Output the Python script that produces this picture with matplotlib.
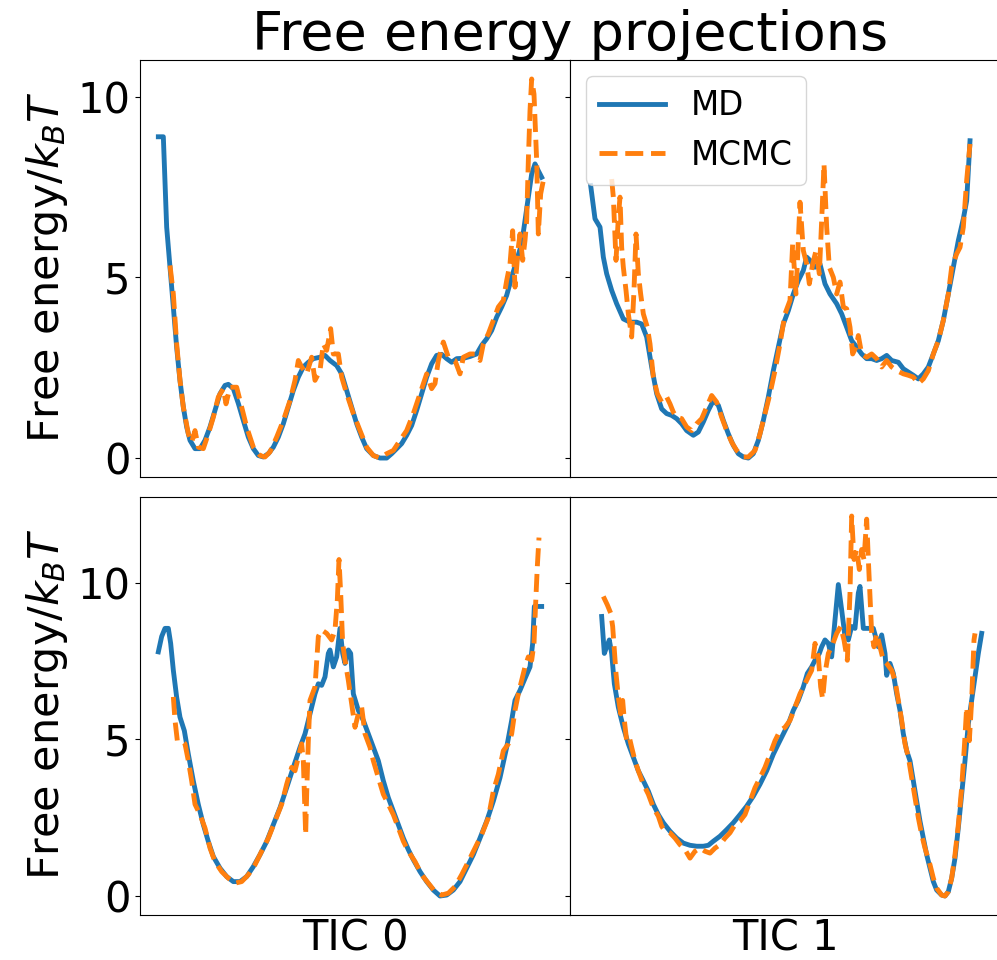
import matplotlib
matplotlib.use("Agg")
import matplotlib.pyplot as plt
import numpy as np

# ---------------- data (x = TIC bin position, y = free energy / kBT) ----------------
tic0_top_md = [(55,8.89),(70,8.89),(80,6.39),(90,5.28),(100,4.18),(110,3.06),(120,2.14),(130,1.41),(140,0.86),(150,0.49),(165,0.26),(180,0.26),(195,0.49),(210,0.86),(225,1.32),(240,1.78),(255,2.01),(265,2.04),(280,1.92),(295,1.51),(310,1.04),(325,0.58),(340,0.26),(355,0.07),(370,0.03),(385,0.12),(400,0.30),(415,0.58),(430,0.95),(445,1.41),(460,1.87),(475,2.24),(490,2.52),(505,2.65),(520,2.75),(540,2.79),(555,2.84),(570,2.70),(590,2.56),(605,2.33),(620,1.87),(635,1.41),(650,0.95),(665,0.58),(680,0.26),(700,0.07),(720,0.0),(740,0.0),(755,0.12),(770,0.26),(785,0.40),(800,0.63),(815,0.90),(830,1.32),(845,1.78),(860,2.24),(875,2.61),(890,2.84),(905,2.87),(920,2.75),(935,2.65),(950,2.75),(970,2.76),(990,2.81),(1010,2.88),(1025,3.12),(1040,3.30),(1055,3.53),(1070,3.90),(1085,4.18),(1100,4.50),(1115,5.00),(1130,5.47),(1145,5.93),(1155,6.57),(1165,7.22),(1175,7.86),(1185,8.14),(1195,7.95),(1205,7.77)]

tic0_top_mcmc = [(90,5.33),(100,4.54),(110,3.16),(120,2.15),(130,1.41),(145,0.67),(155,0.44),(165,0.76),(175,0.30),(190,0.26),(205,0.67),(220,1.13),(235,1.69),(250,1.92),(258,1.50),(270,1.96),(290,1.96),(305,1.41),(320,0.86),(340,0.30),(360,0.07),(375,0.03),(390,0.17),(410,0.58),(430,1.04),(450,1.59),(465,2.15),(475,2.70),(485,2.52),(500,2.33),(515,2.79),(525,2.15),(540,2.42),(550,3.16),(560,2.98),(572,3.58),(580,2.88),(595,2.88),(605,2.24),(620,1.78),(640,1.23),(660,0.76),(680,0.30),(700,0.07),(720,0.0),(740,0.12),(760,0.21),(780,0.49),(800,0.76),(820,1.23),(840,1.78),(860,2.33),(875,1.92),(885,2.06),(895,2.70),(910,3.21),(925,2.79),(945,2.70),(960,2.33),(970,2.79),(990,2.88),(1005,2.88),(1020,2.70),(1030,3.16),(1045,3.44),(1060,3.81),(1075,4.18),(1090,4.36),(1100,4.91),(1110,5.37),(1118,6.29),(1125,4.73),(1135,5.83),(1140,6.20),(1148,5.47),(1155,6.02),(1160,6.57),(1165,8.23),(1170,9.61),(1175,10.49),(1182,10.07),(1190,8.23),(1195,6.20),(1202,7.31),(1210,7.68)]

tic1_top_md = [(62,7.54),(75,6.62),(90,6.39),(100,5.56),(110,5.10),(125,4.64),(140,4.27),(160,3.85),(180,3.76),(200,3.76),(215,3.71),(230,3.35),(245,2.52),(260,1.78),(275,1.36),(290,1.23),(305,1.18),(320,1.09),(335,0.95),(350,0.76),(370,0.63),(385,0.72),(400,1.00),(415,1.32),(430,1.59),(445,1.46),(460,1.04),(475,0.67),(490,0.35),(505,0.12),(520,0.03),(535,0.0),(550,0.12),(565,0.49),(580,1.04),(595,1.69),(610,2.42),(625,3.07),(640,3.71),(655,4.08),(670,4.54),(685,4.91),(700,5.19),(710,5.56),(720,5.47),(735,5.28),(750,5.37),(765,4.82),(780,4.54),(800,4.27),(815,3.99),(830,3.62),(845,3.25),(860,3.07),(875,2.88),(890,2.75),(905,2.75),(920,2.70),(935,2.75),(950,2.84),(965,2.70),(985,2.65),(1000,2.47),(1015,2.38),(1030,2.29),(1045,2.19),(1060,2.33),(1075,2.52),(1090,2.88),(1105,3.25),(1120,3.81),(1135,4.54),(1150,5.28),(1165,6.02),(1180,6.62),(1190,7.12),(1200,8.78)]

tic1_top_mcmc = [(125,7.72),(130,7.22),(138,5.47),(145,6.66),(150,7.22),(155,5.83),(160,5.28),(168,4.64),(175,3.99),(185,3.35),(192,4.64),(198,6.20),(205,5.10),(212,4.54),(220,3.99),(232,3.62),(240,3.16),(250,2.24),(262,1.78),(275,1.55),(290,1.69),(300,1.50),(310,1.27),(320,1.13),(335,1.09),(350,0.86),(365,0.76),(380,0.95),(395,1.09),(410,1.41),(425,1.73),(440,1.55),(455,1.13),(470,0.76),(485,0.44),(500,0.21),(520,0.03),(535,0.03),(555,0.21),(570,0.67),(585,1.23),(600,1.78),(615,2.42),(630,3.16),(645,3.99),(660,4.36),(668,5.93),(678,4.54),(690,7.08),(700,5.74),(710,5.37),(718,4.82),(728,5.37),(738,5.74),(748,5.10),(755,6.57),(762,8.14),(770,6.39),(778,5.28),(790,5.00),(800,4.54),(810,4.87),(820,4.18),(830,4.13),(840,3.62),(848,2.88),(858,3.07),(865,3.39),(875,2.88),(890,2.79),(905,2.88),(920,2.75),(935,2.52),(950,2.70),(965,2.52),(980,2.42),(1000,2.33),(1015,2.29),(1030,2.24),(1045,2.06),(1060,2.19),(1075,2.42),(1090,2.88),(1105,3.25),(1120,3.81),(1135,4.54),(1145,5.28),(1160,5.65),(1170,5.83),(1180,6.39),(1190,7.68),(1200,8.69)]

tic0_bot_md = [(55,7.80),(65,8.29),(75,8.55),(85,8.55),(92,8.07),(100,7.21),(110,6.35),(120,5.71),(133,5.28),(145,4.53),(160,3.67),(175,2.92),(190,2.28),(205,1.74),(220,1.26),(240,0.89),(260,0.62),(280,0.46),(300,0.46),(320,0.62),(340,0.94),(360,1.32),(380,1.74),(400,2.28),(420,2.82),(440,3.46),(460,4.11),(480,4.75),(495,5.18),(510,5.82),(525,6.46),(535,6.78),(545,6.73),(555,7.00),(565,7.75),(570,7.86),(580,7.32),(590,7.64),(600,8.55),(608,7.75),(615,7.43),(625,7.86),(632,7.75),(640,6.46),(655,5.93),(670,5.61),(685,5.18),(700,4.75),(715,4.32),(730,3.68),(745,3.14),(760,2.71),(775,2.28),(790,1.85),(805,1.48),(820,1.16),(840,0.78),(860,0.46),(880,0.19),(900,0.0),(920,0.03),(940,0.19),(960,0.46),(980,0.89),(1000,1.32),(1020,1.85),(1040,2.39),(1060,3.03),(1080,3.78),(1100,4.75),(1115,5.61),(1125,6.25),(1140,6.57),(1155,6.95),(1170,7.32),(1178,8.07),(1183,9.25),(1190,9.25),(1205,9.25)]

tic0_bot_mcmc = [(100,6.36),(105,5.61),(112,4.96),(125,4.96),(135,4.86),(145,4.32),(155,3.68),(165,2.93),(180,2.60),(195,2.17),(210,1.53),(225,1.10),(245,0.78),(265,0.57),(285,0.41),(305,0.46),(325,0.68),(345,1.00),(365,1.43),(385,1.85),(405,2.39),(425,2.93),(440,3.57),(455,4.11),(465,4.00),(475,4.43),(485,4.86),(490,4.32),(497,1.96),(500,3.25),(505,4.96),(510,6.25),(525,6.68),(535,8.29),(545,8.50),(560,8.39),(575,8.18),(585,8.50),(592,9.46),(597,10.75),(602,9.68),(608,8.07),(615,7.53),(625,6.89),(635,6.14),(645,5.39),(655,5.82),(665,6.03),(675,5.18),(690,4.75),(700,4.32),(715,3.78),(730,3.25),(745,2.93),(760,2.60),(775,2.18),(790,1.75),(805,1.43),(825,1.10),(845,0.68),(865,0.41),(885,0.14),(905,0.03),(925,0.09),(945,0.30),(965,0.68),(985,1.10),(1005,1.53),(1025,1.96),(1045,2.50),(1060,3.35),(1075,3.89),(1090,4.64),(1105,4.86),(1115,5.18),(1125,5.93),(1135,6.46),(1145,6.89),(1155,7.32),(1165,7.64),(1175,7.53),(1182,8.07),(1187,9.36),(1192,10.54),(1197,11.45)]

tic1_bot_md = [(95,8.93),(103,7.75),(110,7.96),(118,8.18),(125,7.75),(133,6.78),(145,6.03),(160,5.39),(175,4.86),(190,4.43),(205,4.00),(220,3.68),(235,3.35),(250,2.93),(265,2.60),(280,2.34),(300,2.07),(320,1.85),(340,1.69),(360,1.62),(380,1.59),(400,1.59),(415,1.62),(430,1.75),(450,1.91),(470,2.12),(490,2.34),(510,2.60),(530,2.87),(550,3.19),(570,3.57),(590,4.00),(610,4.53),(625,4.86),(640,5.18),(655,5.50),(670,5.93),(685,6.25),(700,6.68),(712,7.11),(725,7.32),(735,7.53),(748,7.75),(755,7.96),(765,8.18),(775,8.07),(785,7.64),(795,8.82),(805,9.95),(815,9.14),(825,8.29),(835,8.18),(845,8.61),(855,8.55),(865,9.68),(870,9.89),(880,8.55),(910,8.55),(925,7.96),(935,8.34),(945,7.75),(950,7.05),(960,7.43),(970,7.11),(980,6.46),(990,5.93),(1000,5.18),(1010,4.64),(1020,4.32),(1030,3.68),(1040,3.03),(1050,2.39),(1060,1.85),(1070,1.32),(1080,0.89),(1090,0.46),(1100,0.19),(1115,0.03),(1125,0.0),(1135,0.14),(1145,0.57),(1155,1.21),(1165,2.18),(1175,3.25),(1185,4.32),(1195,5.50),(1205,6.25),(1215,7.00),(1225,7.75),(1235,8.39)]

tic1_bot_mcmc = [(100,9.57),(112,9.30),(122,9.04),(128,8.61),(133,7.86),(138,7.11),(145,6.36),(152,5.82),(158,6.25),(163,5.61),(170,4.96),(178,5.07),(185,4.75),(195,4.32),(205,4.00),(220,3.57),(235,3.25),(250,2.82),(265,2.55),(275,2.23),(285,2.07),(300,2.02),(315,1.85),(330,1.64),(345,1.48),(360,1.21),(375,1.43),(390,1.53),(405,1.43),(420,1.37),(435,1.53),(450,1.64),(465,1.85),(480,2.02),(495,2.28),(510,2.39),(525,2.60),(540,3.03),(555,3.46),(570,3.78),(585,4.11),(600,4.53),(615,4.96),(630,5.28),(645,5.39),(660,5.61),(675,6.03),(690,6.46),(705,6.78),(715,7.00),(725,7.21),(735,8.07),(745,7.64),(752,6.68),(758,6.30),(765,7.11),(775,7.75),(785,7.96),(800,8.39),(812,8.61),(822,8.18),(832,7.53),(840,9.68),(845,12.14),(852,10.75),(860,11.07),(868,10.43),(875,11.07),(882,10.75),(890,12.04),(895,10.75),(900,9.57),(905,8.39),(912,7.96),(920,8.39),(930,7.96),(940,7.53),(950,7.43),(965,7.21),(975,6.89),(985,6.25),(995,5.61),(1005,4.86),(1015,4.43),(1025,3.78),(1035,3.14),(1045,2.50),(1055,1.96),(1065,1.53),(1080,1.00),(1090,0.57),(1100,0.25),(1115,0.03),(1125,0.0),(1135,0.14),(1145,0.57),(1155,1.32),(1165,2.28),(1175,3.46),(1183,4.75),(1190,6.03),(1198,4.96),(1205,6.25),(1212,8.18),(1215,8.39)]

series_labels = ["MD", "MCMC"]
x_labels = ["TIC 0", "TIC 1"]
title = "Free energy projections"
y_label = r"Free energy/$k_BT$"

# ---------------- figure ----------------
W, H = 997, 960
fig = plt.figure(figsize=(W / 100, H / 100), dpi=100)

def frac(l, t, r, b):
    return [l / W, 1 - b / H, (r - l) / W, (b - t) / H]

ax_tl = fig.add_axes(frac(140, 60, 570, 477))
ax_tr = fig.add_axes(frac(570, 60, 1000, 477), sharey=ax_tl)
ax_bl = fig.add_axes(frac(140, 497, 570, 915))
ax_br = fig.add_axes(frac(570, 497, 1000, 915), sharey=ax_bl)

panels = [
    (ax_tl, tic0_top_md, tic0_top_mcmc),
    (ax_tr, tic1_top_md, tic1_top_mcmc),
    (ax_bl, tic0_bot_md, tic0_bot_mcmc),
    (ax_br, tic1_bot_md, tic1_bot_mcmc),
]

def xy(pairs):
    a = np.array(pairs, dtype=float)
    return a[:, 0] / 100.0, a[:, 1]

for ax, md, mc in panels:
    x1, y1 = xy(md)
    x2, y2 = xy(mc)
    ax.plot(x1, y1, color="#1f77b4", lw=3.5, ls="-", label=series_labels[0])
    ax.plot(x2, y2, color="#ff7f0e", lw=3.5, ls="--", label=series_labels[1])
    ax.set_xlim(0, 12.9)
    ax.set_xticks([])
    ax.tick_params(axis="y", labelsize=30)
    ax.set_yticks([0, 5, 10])

for ax in (ax_tr, ax_br):
    ax.tick_params(labelleft=False)

ax_bl.set_xlabel(x_labels[0], fontsize=30, labelpad=1.5)
ax_br.set_xlabel(x_labels[1], fontsize=30, labelpad=1.5)

ax_tr.legend(loc="upper left", fontsize=23.5)

fig.text(570 / W, 1 - 50 / H, title, ha="center", va="baseline", fontsize=39)
fig.text(47 / W, 1 - 267 / H, y_label, ha="center", va="center", rotation=90, fontsize=31)
fig.text(47 / W, 1 - 704 / H, y_label, ha="center", va="center", rotation=90, fontsize=31)

fig.savefig("out.png", dpi=100)
